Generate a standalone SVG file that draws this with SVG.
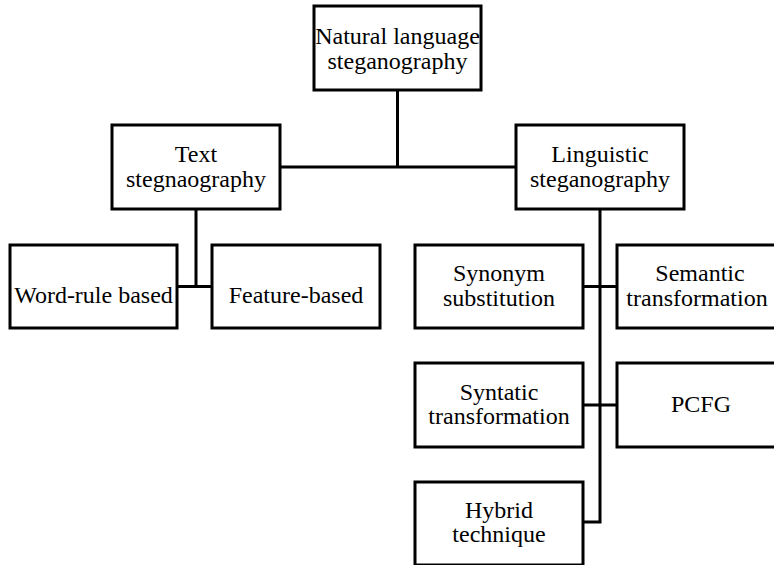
<svg xmlns="http://www.w3.org/2000/svg" width="774" height="565" viewBox="0 0 774 565">
<style>
rect{fill:#fff;stroke:#000;stroke-width:3}
.t{font-family:'Liberation Serif','Times New Roman','DejaVu Serif',serif;font-size:24px;fill:#000;text-anchor:middle}
.c{fill:none;stroke:#000;stroke-width:3}
</style>
<rect x="0" y="0" width="774" height="565" style="stroke:none"/>
<g id="connectors">
<path class="c" d="M397.5,90V167M280,167H516"/>
<path class="c" d="M196,209V286.5M177,286.5H212"/>
<path class="c" d="M600,209V522H583M583,286.5H617M583,405H617"/>
</g>
<g class="t" font-family="Liberation Serif, serif">
<g id="n-natural"><rect x="314" y="6" width="167" height="84"/><text x="397.5" y="44">Natural language</text><text x="397.5" y="69">steganography</text></g>
<g id="n-text"><rect x="112" y="125" width="168" height="84"/><text x="196" y="162">Text</text><text x="196" y="187">stegnaography</text></g>
<g id="n-ling"><rect x="516" y="125" width="168" height="84"/><text x="600" y="162">Linguistic</text><text x="600" y="187">steganography</text></g>
<g id="n-word"><rect x="10" y="245" width="167" height="83"/><text x="93.5" y="303">Word-rule based</text></g>
<g id="n-feature"><rect x="212" y="245" width="168" height="83"/><text x="296" y="303">Feature-based</text></g>
<g id="n-synonym"><rect x="415" y="245" width="168" height="83"/><text x="499" y="281">Synonym</text><text x="499" y="306">substitution</text></g>
<g id="n-semantic"><rect x="617" y="245" width="168" height="83"/><text x="700" y="281">Semantic</text><text x="697" y="306">transformation</text></g>
<g id="n-syntatic"><rect x="415" y="363" width="168" height="84"/><text x="499" y="400">Syntatic</text><text x="499" y="424">transformation</text></g>
<g id="n-pcfg"><rect x="617" y="363" width="168" height="84"/><text x="701" y="412">PCFG</text></g>
<g id="n-hybrid"><rect x="415" y="482" width="168" height="83"/><text x="499" y="518">Hybrid</text><text x="499" y="542">technique</text></g>
</g>
</svg>
